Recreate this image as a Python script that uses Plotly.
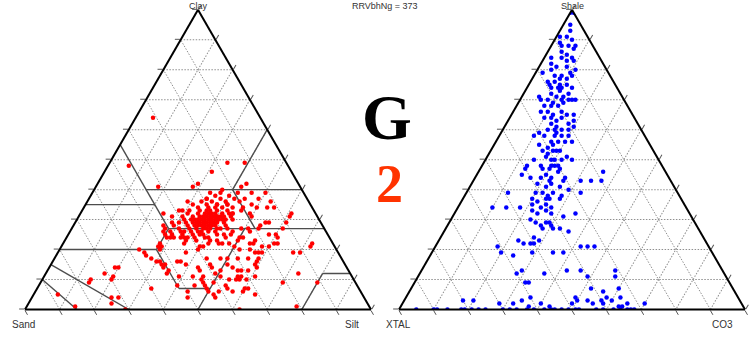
import plotly.graph_objects as go

# ---- Soil texture samples (percent clay / percent silt; sand closes to 100) ----
soil_clay = [
    64, 48, 49, 49, 46, 41, 41, 42, 39, 32, 26, 41, 42, 39, 39, 37, 37, 35, 39, 36,
    34, 34, 34, 32, 31, 32, 31, 29, 29, 28, 29, 32, 24, 21, 19, 22, 19, 19, 19, 16,
    15, 22, 12, 9, 9, 1, 5, 7, 10, 6, 7, 4, 9, 9, 11, 13, 6, 8, 13, 15,
    16, 7, 18, 19, 20, 21, 16, 19, 20, 21, 17, 14, 13, 15, 21, 20, 13, 13, 0, 0,
    14, 12, 10, 1, 5, 11, 4, 25, 24, 26, 24, 23, 25, 25, 22, 23, 24, 26, 22, 23,
    24, 26, 22, 21, 31, 32, 33, 35, 37, 35, 37, 36, 33, 31, 25, 22, 27, 24, 21, 17,
    16, 15, 14, 12, 16, 11, 15, 11, 14, 10, 8, 8, 7, 5, 6, 6, 8, 11, 12, 15,
    17, 17, 14, 11, 10, 4, 24, 22, 25, 24, 26, 24, 22, 23, 20, 17, 19, 17, 14, 13,
    10, 11, 7, 6, 25, 22, 25, 27, 21, 11, 10, 27, 27, 17, 27, 20, 14, 10, 9, 4, 2,
    # dense core
    30, 29, 31, 28, 30, 32, 29, 27, 31, 30, 28, 33, 29, 26, 31, 32, 28, 30, 27, 29,
    33, 34, 31, 26, 28, 30, 32, 27, 25, 29, 31, 30, 28, 29, 32, 27, 26, 33, 30, 31,
    34, 35, 33, 29, 27, 25, 24, 26, 28, 30, 32, 35, 36, 34, 31, 28, 24, 25, 27, 29,
    33, 35, 37, 36, 33, 30, 26, 24, 23, 23, 25, 27, 31, 34, 36, 38, 37, 35, 32, 29,
    30, 29, 31, 28, 30, 32, 28, 27, 31, 29, 30, 26, 33, 34, 31, 28, 32, 29, 30, 27,
    39, 38, 40, 36, 34, 22, 21, 22, 24, 28,
]
soil_silt = [
    5, 6, 34, 39, 31, 18, 28, 29, 37, 24, 27, 42, 43, 42, 46, 45, 49, 48, 50, 53,
    53, 55, 50, 49, 50, 61, 61, 55, 56, 54, 61, 43, 61, 60, 59, 61, 70, 68, 58, 59,
    59, 72, 73, 70, 80, 78, 64, 60, 57, 57, 55, 53, 50, 47, 46, 44, 44, 40, 35, 33,
    30, 33, 26, 25, 29, 28, 37, 37, 40, 41, 44, 47, 50, 51, 50, 52, 55, 58, 62, 29,
    19, 17, 14, 14, 7, 20, 25, 30, 29, 29, 33, 35, 36, 38, 42, 44, 46, 47, 48, 50,
    51, 52, 55, 58, 40, 44, 46, 41, 42, 38, 34, 29, 28, 27, 28, 28, 27, 31, 29, 28,
    31, 32, 33, 35, 36, 39, 39, 43, 43, 46, 45, 48, 49, 52, 50, 53, 54, 51, 49, 46,
    48, 50, 53, 56, 54, 45, 40, 46, 47, 35, 33, 50, 54, 55, 55, 56, 57, 59, 60, 56,
    59, 57, 61, 60, 58, 62, 60, 61, 72, 61, 56, 51, 54, 53, 49, 23, 20, 20, 14, 23, 24,
    # dense core
    37, 38, 36, 39, 40, 37, 35, 38, 39, 34, 36, 36, 41, 40, 42, 34, 33, 38, 36, 39,
    39, 36, 33, 37, 41, 43, 41, 34, 39, 32, 35, 36, 38, 37, 39, 40, 35, 34, 41, 38,
    33, 35, 31, 30, 31, 33, 37, 42, 44, 45, 44, 38, 36, 40, 30, 29, 41, 43, 45, 43,
    42, 41, 38, 33, 29, 31, 32, 34, 38, 42, 45, 43, 44, 43, 40, 36, 34, 31, 31, 28,
    39, 36, 37, 37, 35, 38, 40, 39, 40, 40, 33, 38, 37, 38, 41, 35, 36, 34, 42, 42,
    34, 40, 37, 44, 46, 45, 40, 35, 30, 26,
]
soil_sand = [100 - c - s for c, s in zip(soil_clay, soil_silt)]

# USDA texture-class boundaries as (clay, sand, silt) end points
usda_bounds = [
    ((55, 45, 0), (27, 45, 28)),
    ((40, 45, 15), (40, 0, 60)),
    ((35, 65, 0), (35, 45, 20)),
    ((60, 0, 40), (40, 20, 40)),
    ((40, 20, 40), (27, 20, 53)),
    ((27, 45, 28), (27, 0, 73)),
    ((27, 45, 28), (20, 52, 28)),
    ((20, 80, 0), (20, 52, 28)),
    ((20, 52, 28), (7, 52, 41)),
    ((7, 52, 41), (7, 43, 50)),
    ((27, 23, 50), (0, 50, 50)),
    ((0, 20, 80), (12, 8, 80)),
    ((12, 8, 80), (12, 0, 88)),
    ((15, 85, 0), (0, 70, 30)),
    ((10, 90, 0), (0, 85, 15)),
]

# ---- Lithology samples (percent shale / percent CO3; XTAL closes to 100) ----
lith_shale = [
    100, 99, 99, 95, 93, 91, 91, 90, 89, 88, 88, 87, 88, 86, 85, 84, 84, 84, 83, 81,
    83, 82, 80, 81, 79, 76, 78, 76, 77, 78, 77, 79, 80, 78, 75, 74, 74, 75, 74, 75,
    74, 73, 71, 71, 72, 72, 71, 70, 70, 69, 70, 70, 70, 70, 69, 68, 68, 68, 66, 66,
    65, 66, 65, 65, 64, 64, 63, 64, 62, 61, 60, 62, 63, 60, 60, 59, 60, 61, 59, 58,
    58, 58, 58, 58, 56, 56, 55, 55, 56, 56, 54, 53, 53, 52, 53, 53, 51, 50, 50, 50,
    51, 50, 50, 48, 48, 48, 48,
    47, 47, 47, 48, 47, 45, 44, 46, 44, 45, 44, 44, 43, 43, 43, 43, 43, 46, 42, 41,
    42, 41, 40, 39, 38, 39, 38, 39, 39, 39, 37, 36, 37, 37, 37, 35, 34, 35, 34, 34,
    34, 34, 33, 32, 33, 32, 32, 31, 30, 29, 28, 29, 29, 28, 27, 27, 27, 24, 26, 23,
    22, 22, 22, 23, 21, 18, 19, 19, 19, 21, 21, 21, 19, 13, 12, 9, 13, 13, 13, 11,
    7, 6, 4, 3, 3, 3, 4, 3, 4, 2, 1, 1, 2, 0, 3, 3, 3, 4, 2, 2,
    2, 11, 7, 12, 9, 1, 1, 2, 2, 2,
    0, 0, 0, 0, 0, 0, 0, 0, 0, 0, 0, 0, 0, 0, 0, 0, 0, 0, 0, 0,
    0, 0, 0, 0, 0, 0, 0,
]
lith_co3 = [
    0, 0, 1, 2, 3, 3, 1, 5, 2, 3, 5, 7, 7, 4, 6, 2, 5, 8, 7, 8,
    9, 3, 4, 5, 2, 5, 6, 7, 8, 8, 10, 10, 11, 11, 9, 9, 7, 6, 10, 11,
    13, 10, 12, 10, 8, 13, 5, 6, 8, 10, 12, 14, 15, 16, 13, 12, 10, 8, 8, 10,
    12, 14, 16, 18, 10, 12, 14, 15, 13, 15, 17, 18, 19, 13, 15, 16, 19, 20, 11, 10,
    13, 16, 18, 20, 16, 18, 13, 17, 20, 22, 16, 18, 19, 17, 15, 20, 17, 19, 20, 22,
    23, 25, 14, 13, 17, 20, 22,
    13, 18, 20, 21, 23, 20, 22, 23, 26, 13, 16, 19, 22, 26, 31, 34, 37, 36, 19, 22,
    23, 26, 29, 22, 24, 25, 28, 20, 33, 12, 20, 22, 24, 25, 28, 25, 24, 21, 27, 18,
    10, 14, 22, 24, 26, 28, 35, 32, 23, 25, 27, 28, 29, 30, 31, 28, 33, 27, 36, 23,
    25, 27, 28, 29, 18, 24, 29, 35, 38, 42, 44, 46, 20, 29, 36, 33, 42, 46, 56, 57,
    52, 56, 49, 50, 53, 57, 58, 60, 62, 65, 63, 64, 70, 68, 17, 20, 34, 36, 40, 28,
    32, 49, 60, 28, 32, 37, 43, 49, 55, 58,
    5, 10, 11, 14, 18, 19, 21, 23, 25, 30, 32, 34, 37, 39, 42, 44, 45, 47, 49, 51,
    52, 57, 59, 62, 64, 66, 67,
]
lith_xtal = [100 - s - c for s, c in zip(lith_shale, lith_co3)]

W, H = 749, 339
LABEL_FONT = dict(family="Liberation Sans, Arial, sans-serif", size=10, color="#333333")
TOP_FONT = dict(family="Liberation Sans, Arial, sans-serif", size=9, color="#333333")


def ternary_axis():
    return dict(
        min=0, dtick=10, tick0=0,
        ticks="outside", ticklen=5, tickwidth=1, tickcolor="#555555",
        showticklabels=False,
        showgrid=True, gridcolor="#8f8f8f", griddash="1.5px,1.5px", gridwidth=1,
        showline=True, linecolor="black", linewidth=2,
        title=dict(text=""),
    )


def px_to_paper_x(px):
    return px / W


def px_to_paper_y(py):
    return 1 - py / H


fig = go.Figure()

# texture class boundaries
for (p0, p1) in usda_bounds:
    fig.add_trace(go.Scatterternary(
        a=[p0[0], p1[0]], b=[p0[1], p1[1]], c=[p0[2], p1[2]],
        mode="lines", line=dict(color="#4d4d4d", width=1.4),
        hoverinfo="skip", subplot="ternary", showlegend=False,
    ))

fig.add_trace(go.Scatterternary(
    a=soil_clay, b=soil_sand, c=soil_silt,
    mode="markers", marker=dict(color="#ff0000", size=4.5, line=dict(width=0)),
    subplot="ternary", showlegend=False,
))

fig.add_trace(go.Scatterternary(
    a=lith_shale, b=lith_xtal, c=lith_co3,
    mode="markers", marker=dict(color="#0000ff", size=4.5, line=dict(width=0)),
    subplot="ternary2", showlegend=False,
))

tw = 346 / W
left_cx = 198 / W
right_cx = 572 / W
ydom = [0.079, 0.979]

fig.update_layout(
    width=W, height=H,
    margin=dict(l=0, r=0, t=0, b=0),
    paper_bgcolor="white",
    ternary=dict(
        sum=100, bgcolor="white",
        domain=dict(x=[left_cx - tw / 2, left_cx + tw / 2], y=ydom),
        aaxis=ternary_axis(), baxis=ternary_axis(), caxis=ternary_axis(),
    ),
    ternary2=dict(
        sum=100, bgcolor="white",
        domain=dict(x=[right_cx - tw / 2, right_cx + tw / 2], y=ydom),
        aaxis=ternary_axis(), baxis=ternary_axis(), caxis=ternary_axis(),
    ),
)

# corner and header labels
top_labels = [("Clay", 198), ("RRVbhNg = 373", 385), ("Shale", 572)]
for text, x in top_labels:
    fig.add_annotation(
        text=text, x=px_to_paper_x(x), y=1.0,
        xref="paper", yref="paper", xanchor="center", yanchor="top",
        showarrow=False, font=TOP_FONT, borderpad=0,
    )

bottom_labels = [("Sand", 23), ("Silt", 352), ("XTAL", 398), ("CO3", 722)]
for text, x in bottom_labels:
    fig.add_annotation(
        text=text, x=px_to_paper_x(x), y=px_to_paper_y(324),
        xref="paper", yref="paper", xanchor="center", yanchor="middle",
        showarrow=False, font=LABEL_FONT,
    )

fig.add_annotation(
    text="<b>G</b>", x=px_to_paper_x(387), y=px_to_paper_y(117.5),
    xref="paper", yref="paper", xanchor="center", yanchor="middle",
    showarrow=False,
    font=dict(family="Liberation Serif, Times New Roman, serif", size=64, color="black"),
)
fig.add_annotation(
    text="<b>2</b>", x=px_to_paper_x(389), y=px_to_paper_y(184),
    xref="paper", yref="paper", xanchor="center", yanchor="middle",
    showarrow=False,
    font=dict(family="Liberation Serif, Times New Roman, serif", size=54, color="#ff3300"),
)

fig.write_html("out.html")
